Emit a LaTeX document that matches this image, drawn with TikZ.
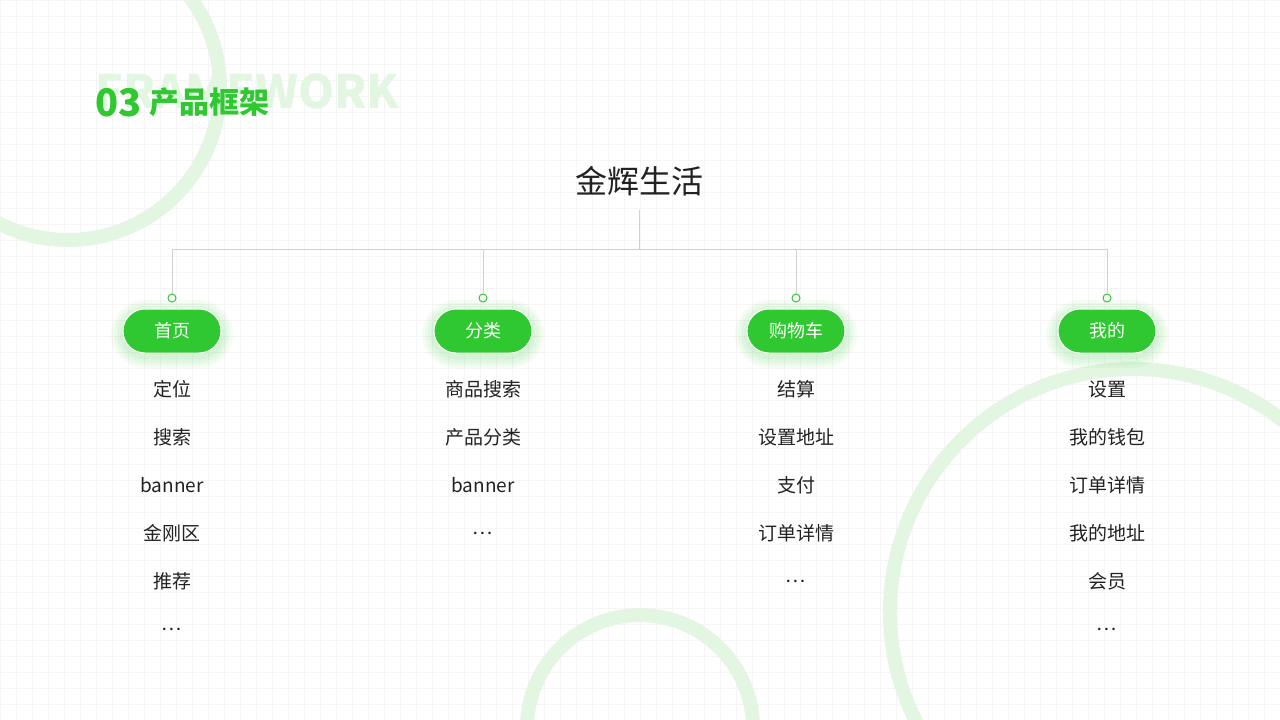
\documentclass[tikz,border=0pt]{standalone}
\usepackage{fontspec}
\setmainfont{Noto Sans CJK SC}
\definecolor{gr}{HTML}{2FC831}
\definecolor{ring}{HTML}{E3F6E1}
\definecolor{ln}{HTML}{D0D0D0}
\definecolor{tx}{HTML}{222222}
\begin{document}
\begin{tikzpicture}[x=1pt,y=-1pt,
  pill/.style={fill=gr,draw=white,line width=1pt,rounded corners=22pt,minimum width=98pt,minimum height=44pt,text=white,font=\fontsize{18}{18}\selectfont},
  dot/.style={circle,draw=gr,fill=white,line width=1pt,inner sep=0pt,minimum size=8pt},
  item/.style={text=tx,font=\fontsize{19}{19}\selectfont}]
\useasboundingbox (0,0) rectangle (1280,720);
\fill[white] (0,0) rectangle (1280,720);
\foreach \i in {0,16,...,1280} \draw[black!4,line width=0.5pt] (\i,0) -- (\i,720);
\foreach \i in {0,16,...,720} \draw[black!4,line width=0.5pt] (0,\i) -- (1280,\i);
\begin{scope}
\clip (0,0) rectangle (1280,720);
\draw[ring,line width=14pt] (68,88) circle (152);
\draw[ring,line width=14pt] (1133,612) circle (243);
\draw[ring,line width=14pt] (640,728) circle (113);
\end{scope}
\node[anchor=west,text=ring,font=\bfseries\fontsize{46}{46}\selectfont] (fw) at (92,91) {FRAMEWORK};
\node[anchor=west,text=gr,font=\bfseries\fontsize{38}{38}\selectfont] (n03) at (92,103) {03};
\node[anchor=west,text=gr,font=\bfseries\fontsize{30}{30}\selectfont] (tt) at (146,102) {产品框架};
\node[text=tx,font=\fontsize{32}{32}\selectfont] (root) at (639,181) {金辉生活};
\coordinate (rb) at (639,210);
\coordinate (rj) at (639,249);
\draw[ln,line width=1pt] (rb) -- (rj);
\foreach \n/\x/\t in {a/172/首页,b/483/分类,c/796/购物车,d/1107/我的}{
  \foreach \s in {12,9,6,3}
    \fill[gr,opacity=0.05,rounded corners=22pt+\s pt] (\x-49-\s,334-22-\s) rectangle (\x+49+\s,334+22+\s);
  \node[pill] (\n) at (\x,331) {\t};
  \node[dot] (\n d) at (\x,298) {};
  \coordinate (\n t) at (\x,249);
  \draw[ln,line width=1pt] (\n t) -- (\n d);
}
\draw[ln,line width=1pt] (at) -- (dt);
\foreach \t [count=\k] in {定位,搜索,banner,金刚区,推荐,{…}}
  \node[item] (a\k) at (172,341+48*\k) {\t};
\foreach \t [count=\k] in {商品搜索,产品分类,banner,{…}}
  \node[item] (b\k) at (483,341+48*\k) {\t};
\foreach \t [count=\k] in {结算,设置地址,支付,订单详情,{…}}
  \node[item] (c\k) at (796,341+48*\k) {\t};
\foreach \t [count=\k] in {设置,我的钱包,订单详情,我的地址,会员,{…}}
  \node[item] (d\k) at (1107,341+48*\k) {\t};
\end{tikzpicture}
\end{document}
